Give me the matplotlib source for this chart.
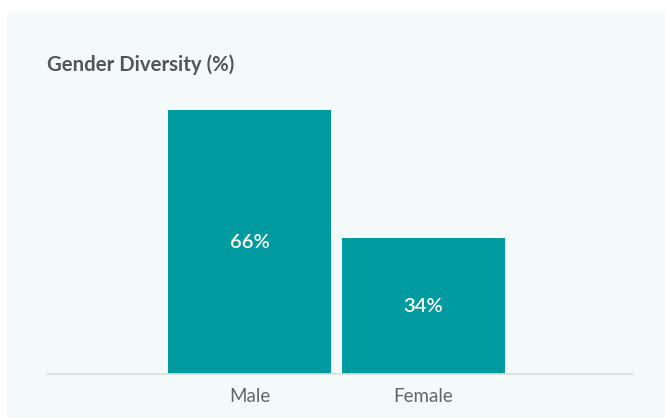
import matplotlib
matplotlib.use("Agg")
import matplotlib.pyplot as plt

categories = ["Male", "Female"]
values = [66, 34]
labels = ["66%", "34%"]
title = "Gender Diversity (%)"

W, H = 665, 418
fig = plt.figure(figsize=(W / 100, H / 100), dpi=100)
fig.patch.set_facecolor("white")

panel_col = "#f4f9f9"
bg = fig.add_axes([7 / W, 0, 1 - 7 / W, (H - 12) / H], zorder=0)
bg.set_facecolor(panel_col)
bg.set_axis_off()
bg.add_patch(plt.Rectangle((0, 0), 1, 1, transform=bg.transAxes,
                           facecolor=panel_col, edgecolor="none"))

FONT = ["Lato", "DejaVu Sans"]

ax_l, ax_r = 47 / W, 633 / W
ax_b = (H - 374) / H
ax_t = (H - 80) / H
ax = fig.add_axes([ax_l, ax_b, ax_r - ax_l, ax_t - ax_b], zorder=2)
ax.set_facecolor("none")

x = list(range(len(categories)))
ax.bar(x, values, width=0.937, color="#009ba1", zorder=2)
for xi, v, lab in zip(x, values, labels):
    ax.text(xi, v / 2, lab, ha="center", va="center", color="white",
            fontsize=14.5, fontweight="semibold", family=FONT)

ax.set_xlim(-1.164, 2.204)
ax.set_ylim(0, (374 - 80) / 4)

for s in ["top", "right", "left"]:
    ax.spines[s].set_visible(False)
ax.spines["bottom"].set_color("#dddddd")
ax.spines["bottom"].set_linewidth(1.2)
ax.set_yticks([])
ax.set_xticks(x)
ax.set_xticklabels(categories, fontsize=13.5, color="#666666", family=FONT)
ax.tick_params(axis="x", length=0, pad=10)

fig.text(47 / W, 1 - 65 / H, title, ha="left", va="center", fontsize=14.7,
         fontweight="bold", color="#555555", family=FONT)

fig.savefig("out.png", dpi=100)
